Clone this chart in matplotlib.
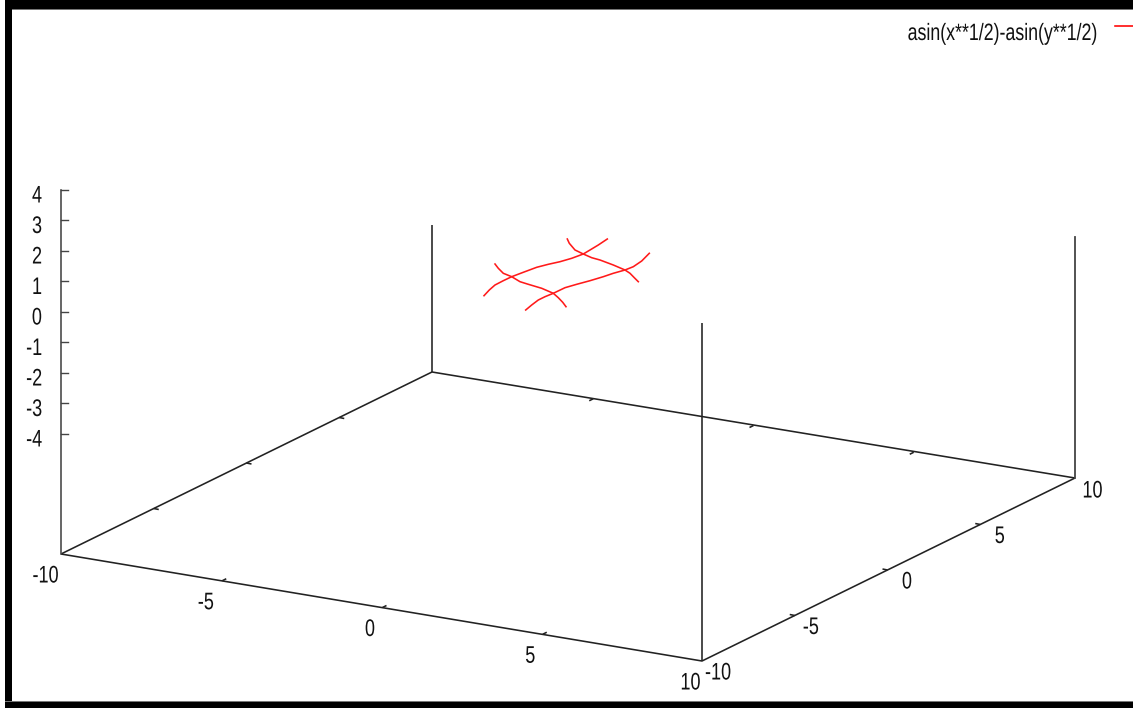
import matplotlib
matplotlib.use('Agg')
import matplotlib.pyplot as plt
from matplotlib.patches import Rectangle
from matplotlib.patheffects import AbstractPathEffect
from matplotlib.transforms import Affine2D

plt.rcParams['font.family'] = ['Liberation Sans', 'DejaVu Sans']

legend_label = 'asin(x**1/2)-asin(y**1/2)'
x_ticks = [-10, -5, 0, 5, 10]
y_ticks = [-10, -5, 0, 5, 10]
z_ticks = [4, 3, 2, 1, 0, -1, -2, -3, -4]

# base corners
corner_xx = (61, 554)
corner_Xx = (702, 661)
corner_XY = (1075, 478)
corner_xY = (432, 372)

# height of the upright lines, screen position of their tops
z_axis_top = 190
back_left_top = 225
front_top = 323
right_top = 237

# red curves, screen positions
curve_a_u = [484, 489.3, 495, 503.3, 511.7, 523.3, 536.7, 548.3, 560, 571.7, 583.3, 590, 598.3, 607.3]
curve_a_v = [295.7, 290, 285, 280.7, 276.7, 272.3, 267.3, 264.3, 261.7, 258.3, 254, 250, 245, 239]
curve_b_u = [525.7, 531.7, 538.3, 545, 553.3, 565, 576.7, 590, 603.3, 613.3, 625, 633.3, 641.7, 649.3]
curve_b_v = [310, 305, 300, 296.7, 293.3, 287.7, 284.3, 280.7, 276.7, 273.3, 270, 266.7, 261, 253.3]
curve_c_u = [495, 498.3, 503.3, 511.7, 520, 528.3, 541.7, 553.3, 558.3, 562.7, 566]
curve_c_v = [264, 268.3, 273.3, 276.7, 281.7, 284.3, 288.3, 293.3, 297.7, 302.3, 306.7]
curve_d_u = [567.3, 569.3, 575, 583.3, 591.7, 600, 613.3, 625, 630, 634.3, 638.3]
curve_d_v = [239, 243.3, 250, 254, 257.7, 260, 265, 270, 273.3, 277.7, 281.7]


class TallText(AbstractPathEffect):
    # the screenshot was stretched, so the letters are taller than they are wide
    def draw_path(self, renderer, gc, tpath, affine, rgbFace=None):
        renderer.draw_path(gc, tpath, Affine2D().scale(1, 1.33) + affine, rgbFace)


def project(x, y):
    s = (x + 10) / 20
    t = (y + 10) / 20
    u = corner_xx[0] + s * (corner_Xx[0] - corner_xx[0]) + t * (corner_xY[0] - corner_xx[0])
    v = corner_xx[1] + s * (corner_Xx[1] - corner_xx[1]) + t * (corner_xY[1] - corner_xx[1])
    return u, v


def z_pos(z):
    return 311.5 - 30.5 * z


def label(u, v, s, ha='center', size=13):
    ax.text(u, v, s, fontsize=size, ha=ha, va='baseline', color='#111111',
            path_effects=[TallText()])


fig = plt.figure(figsize=(11.33, 7.08), dpi=100)
ax = fig.add_axes([0, 0, 1, 1])
ax.set_xlim(0, 1133)
ax.set_ylim(708, 0)
ax.axis('off')

# screenshot frame
ax.add_patch(Rectangle((5, 0), 1128, 10, color='#777777', lw=0))
ax.add_patch(Rectangle((5, 0), 1128, 9, color='black', lw=0))
ax.add_patch(Rectangle((5, 0), 7, 708, color='black', lw=0))
ax.add_patch(Rectangle((5, 700.5), 1128, 7.5, color='#777777', lw=0))
ax.add_patch(Rectangle((5, 702), 1128, 6, color='black', lw=0))

line = dict(color='#222222', lw=1.15, solid_capstyle='butt')

# base square
ax.plot([corner_xx[0], corner_Xx[0], corner_XY[0]], [corner_xx[1], corner_Xx[1], corner_XY[1]], **line)
ax.plot([corner_xx[0], corner_xY[0], corner_XY[0]], [corner_xx[1], corner_xY[1], corner_XY[1]], **line)

# uprights
ax.plot([corner_xx[0], corner_xx[0]], [corner_xx[1], z_axis_top], color='#444444', lw=1.15)
ax.plot([corner_xY[0], corner_xY[0]], [corner_xY[1], back_left_top], **line)
ax.plot([corner_Xx[0], corner_Xx[0]], [corner_Xx[1], front_top], **line)
ax.plot([corner_XY[0], corner_XY[0]], [corner_XY[1], right_top], color='#444444', lw=1.3)

# z ticks
for z in z_ticks:
    ax.plot([61, 68], [z_pos(z), z_pos(z)], color='#444444', lw=1.0)
    label(42, z_pos(z) + 13, str(z), ha='right')

# small tick marks on the base edges
for x in x_ticks[1:-1]:
    for y in (-10, 10):
        u, v = project(x, y)
        sign = 1 if y == -10 else -1
        ax.plot([u + 1, u + 1 + sign * 4], [v, v - sign * 2], **line)
for y in y_ticks[1:-1]:
    for x in (-10, 10):
        u, v = project(x, y)
        sign = 1 if x == -10 else -1
        ax.plot([u, u + sign * 5], [v, v + sign * 1], **line)

# base labels
for x in x_ticks:
    u, v = project(x, -10)
    label(u - (15.5 if x < 0 else 11.5), v + 28.5, str(x))
for y in y_ticks:
    u, v = project(10, y)
    label(u + (16 if y < 0 else 19.5), v + 18.5, str(y))

# curves
for cu, cv in ((curve_a_u, curve_a_v), (curve_b_u, curve_b_v), (curve_c_u, curve_c_v), (curve_d_u, curve_d_v)):
    ax.plot(cu, cv, color='#ff1a1a', lw=1.15)

# legend
label(1097, 40, legend_label, ha='right', size=12.8)
ax.plot([1115, 1133], [26, 26], color='#ff0000', lw=1.15)

fig.savefig('out.png', dpi=100)
